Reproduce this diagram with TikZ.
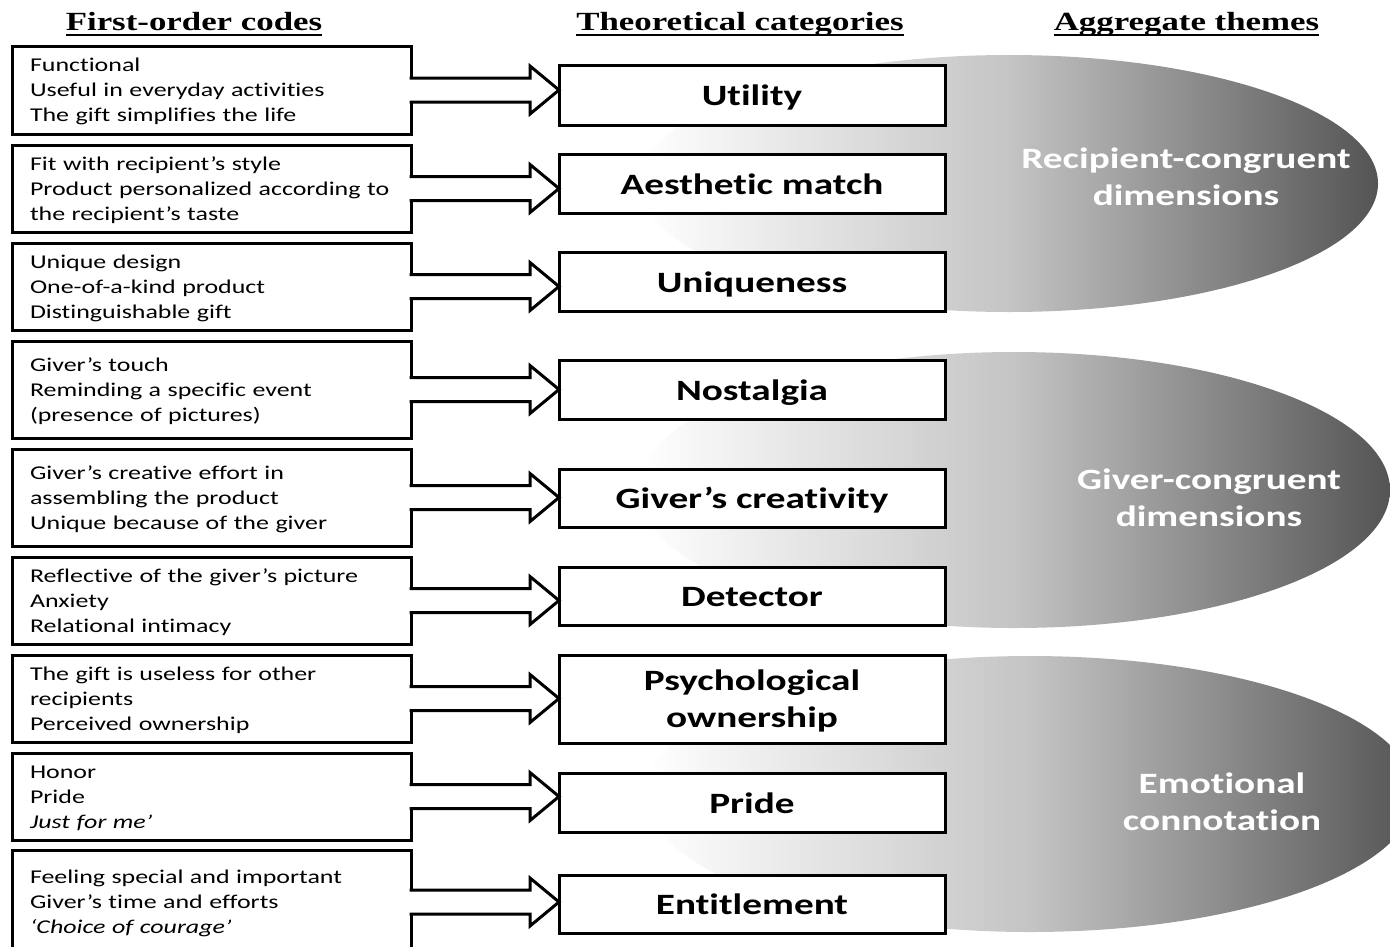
\documentclass[tikz,border=0pt]{standalone}
\usepackage{fontspec}
\setmainfont{Carlito}[FakeStretch=1.33, Ligatures={NoCommon}]
\newfontfamily\headfont{Liberation Serif}[FakeStretch=1.33]
\newcommand\myul[1]{\setbox0\hbox{#1}\rlap{\rule[-5.5pt]{\wd0}{2pt}}\box0}
\newcommand\fs{\rule{0pt}{19pt}}
\newcommand\ls{\rule[-6pt]{0pt}{6pt}}
\begin{document}
\begin{tikzpicture}[x=1pt,y=-1pt,
  code/.style={draw, line width=3pt, fill=white, minimum width=399pt, text width=363pt,
    inner xsep=18pt, inner ysep=0pt, align=left, outer sep=0pt,
    font=\fontsize{19.5}{25}\selectfont},
  cat/.style={draw, line width=3pt, fill=white, minimum width=386pt, outer sep=0pt,
    inner ysep=0pt, align=center, font=\fontsize{29.5}{37}\selectfont\bfseries},
  cat1/.style={cat, text height=27pt, text depth=6pt},
  theme/.style={text=white, align=center, font=\fontsize{29.5}{37}\selectfont\bfseries},
  head/.style={anchor=base, inner sep=0pt, font=\headfont\fontsize{26.2}{30}\selectfont\bfseries},
  blob/.style={left color=white, right color=black!67, middle color=black!23},
  barrow/.style={draw=black, fill=white, line width=3pt, line join=miter}]
\useasboundingbox (0,0) rectangle (1390,946);
\clip (0,0) rectangle (1390,946);

% aggregate theme shapes
\shade[blob] (1009,183.5) ellipse [x radius=369pt, y radius=128.5pt];
\shade[blob] (1014,490) ellipse [x radius=376pt, y radius=138pt];
\shade[blob] (1030,794) ellipse [x radius=385pt, y radius=138pt];

\node[theme] (t1) at (1186,177) {Recipient-congruent\\dimensions};
\node[theme] (t2) at (1209,498) {Giver-congruent\\dimensions};
\node[theme] (t3) at (1222,802) {Emotional\\connotation};

% headings
\node[head] (h1) at (194,30) {\myul{First-order codes}};
\node[head] (h2) at (740,30) {\myul{Theoretical categories}};
\node[head] (h3) at (1186.5,30) {\myul{Aggregate themes}};

% theoretical categories
\node[cat1, minimum height=60pt] (c1) at (752,95) {Utility};
\node[cat1, minimum height=59pt] (c2) at (752,183.5) {Aesthetic match};
\node[cat1, minimum height=59pt] (c3) at (752,281.5) {Uniqueness};
\node[cat1, minimum height=59pt] (c4) at (752,389.5) {Nostalgia};
\node[cat1, minimum height=58pt] (c5) at (752,498) {Giver’s creativity};
\node[cat1, minimum height=58pt] (c6) at (752,596) {Detector};
\node[cat, minimum height=88pt] (c7) at (752,699) {\rule{0pt}{26pt}Psychological\\ownership\rule[-6pt]{0pt}{6pt}};
\node[cat1, minimum height=59pt] (c8) at (752,802.5) {Pride};
\node[cat1, minimum height=58pt] (c9) at (752,904) {Entitlement};

% first-order codes
\node[code, minimum height=88pt] (l1) at (211.5,90) {\fs Functional\\Useful in everyday activities\\The gift simplifies the life\ls};
\node[code, minimum height=87pt] (l2) at (211.5,188.5) {\fs Fit with recipient’s style\\Product personalized according to\\the recipient’s taste\ls};
\node[code, minimum height=87pt] (l3) at (211.5,286.5) {\fs Unique design\\One-of-a-kind product\\Distinguishable gift\ls};
\node[code, minimum height=97pt] (l4) at (211.5,389.5) {\fs Giver’s touch\\Reminding a specific event\\(presence of pictures)\ls};
\node[code, minimum height=97pt] (l5) at (211.5,497.5) {\fs Giver’s creative effort in\\assembling the product\\Unique because of the giver\ls};
\node[code, minimum height=87pt] (l6) at (211.5,600.5) {\fs Reflective of the giver’s picture\\Anxiety\\Relational intimacy\ls};
\node[code, minimum height=87pt] (l7) at (211.5,698.5) {\fs The gift is useless for other\\recipients\\Perceived ownership\ls};
\node[code, minimum height=87pt] (l8) at (211.5,796.5) {\fs Honor\\Pride\\\textit{Just for me’}\ls};
\node[code, minimum height=104pt] (l9) at (211.5,902) {\fs Feeling special and important\\Giver’s time and efforts\\\textit{‘Choice of courage’}\ls};

% block arrows
\foreach \i in {1,...,9}{
  \coordinate (tip\i) at (c\i.west |- l\i.east);
  \draw[barrow] ([shift={(-1.5,-12)}]l\i.east) -- ([shift={(-29,-12)}]tip\i)
     -- ([shift={(-29,-24)}]tip\i) -- (tip\i) -- ([shift={(-29,24)}]tip\i)
     -- ([shift={(-29,12)}]tip\i) -- ([shift={(-1.5,12)}]l\i.east);
}
\end{tikzpicture}
\end{document}
